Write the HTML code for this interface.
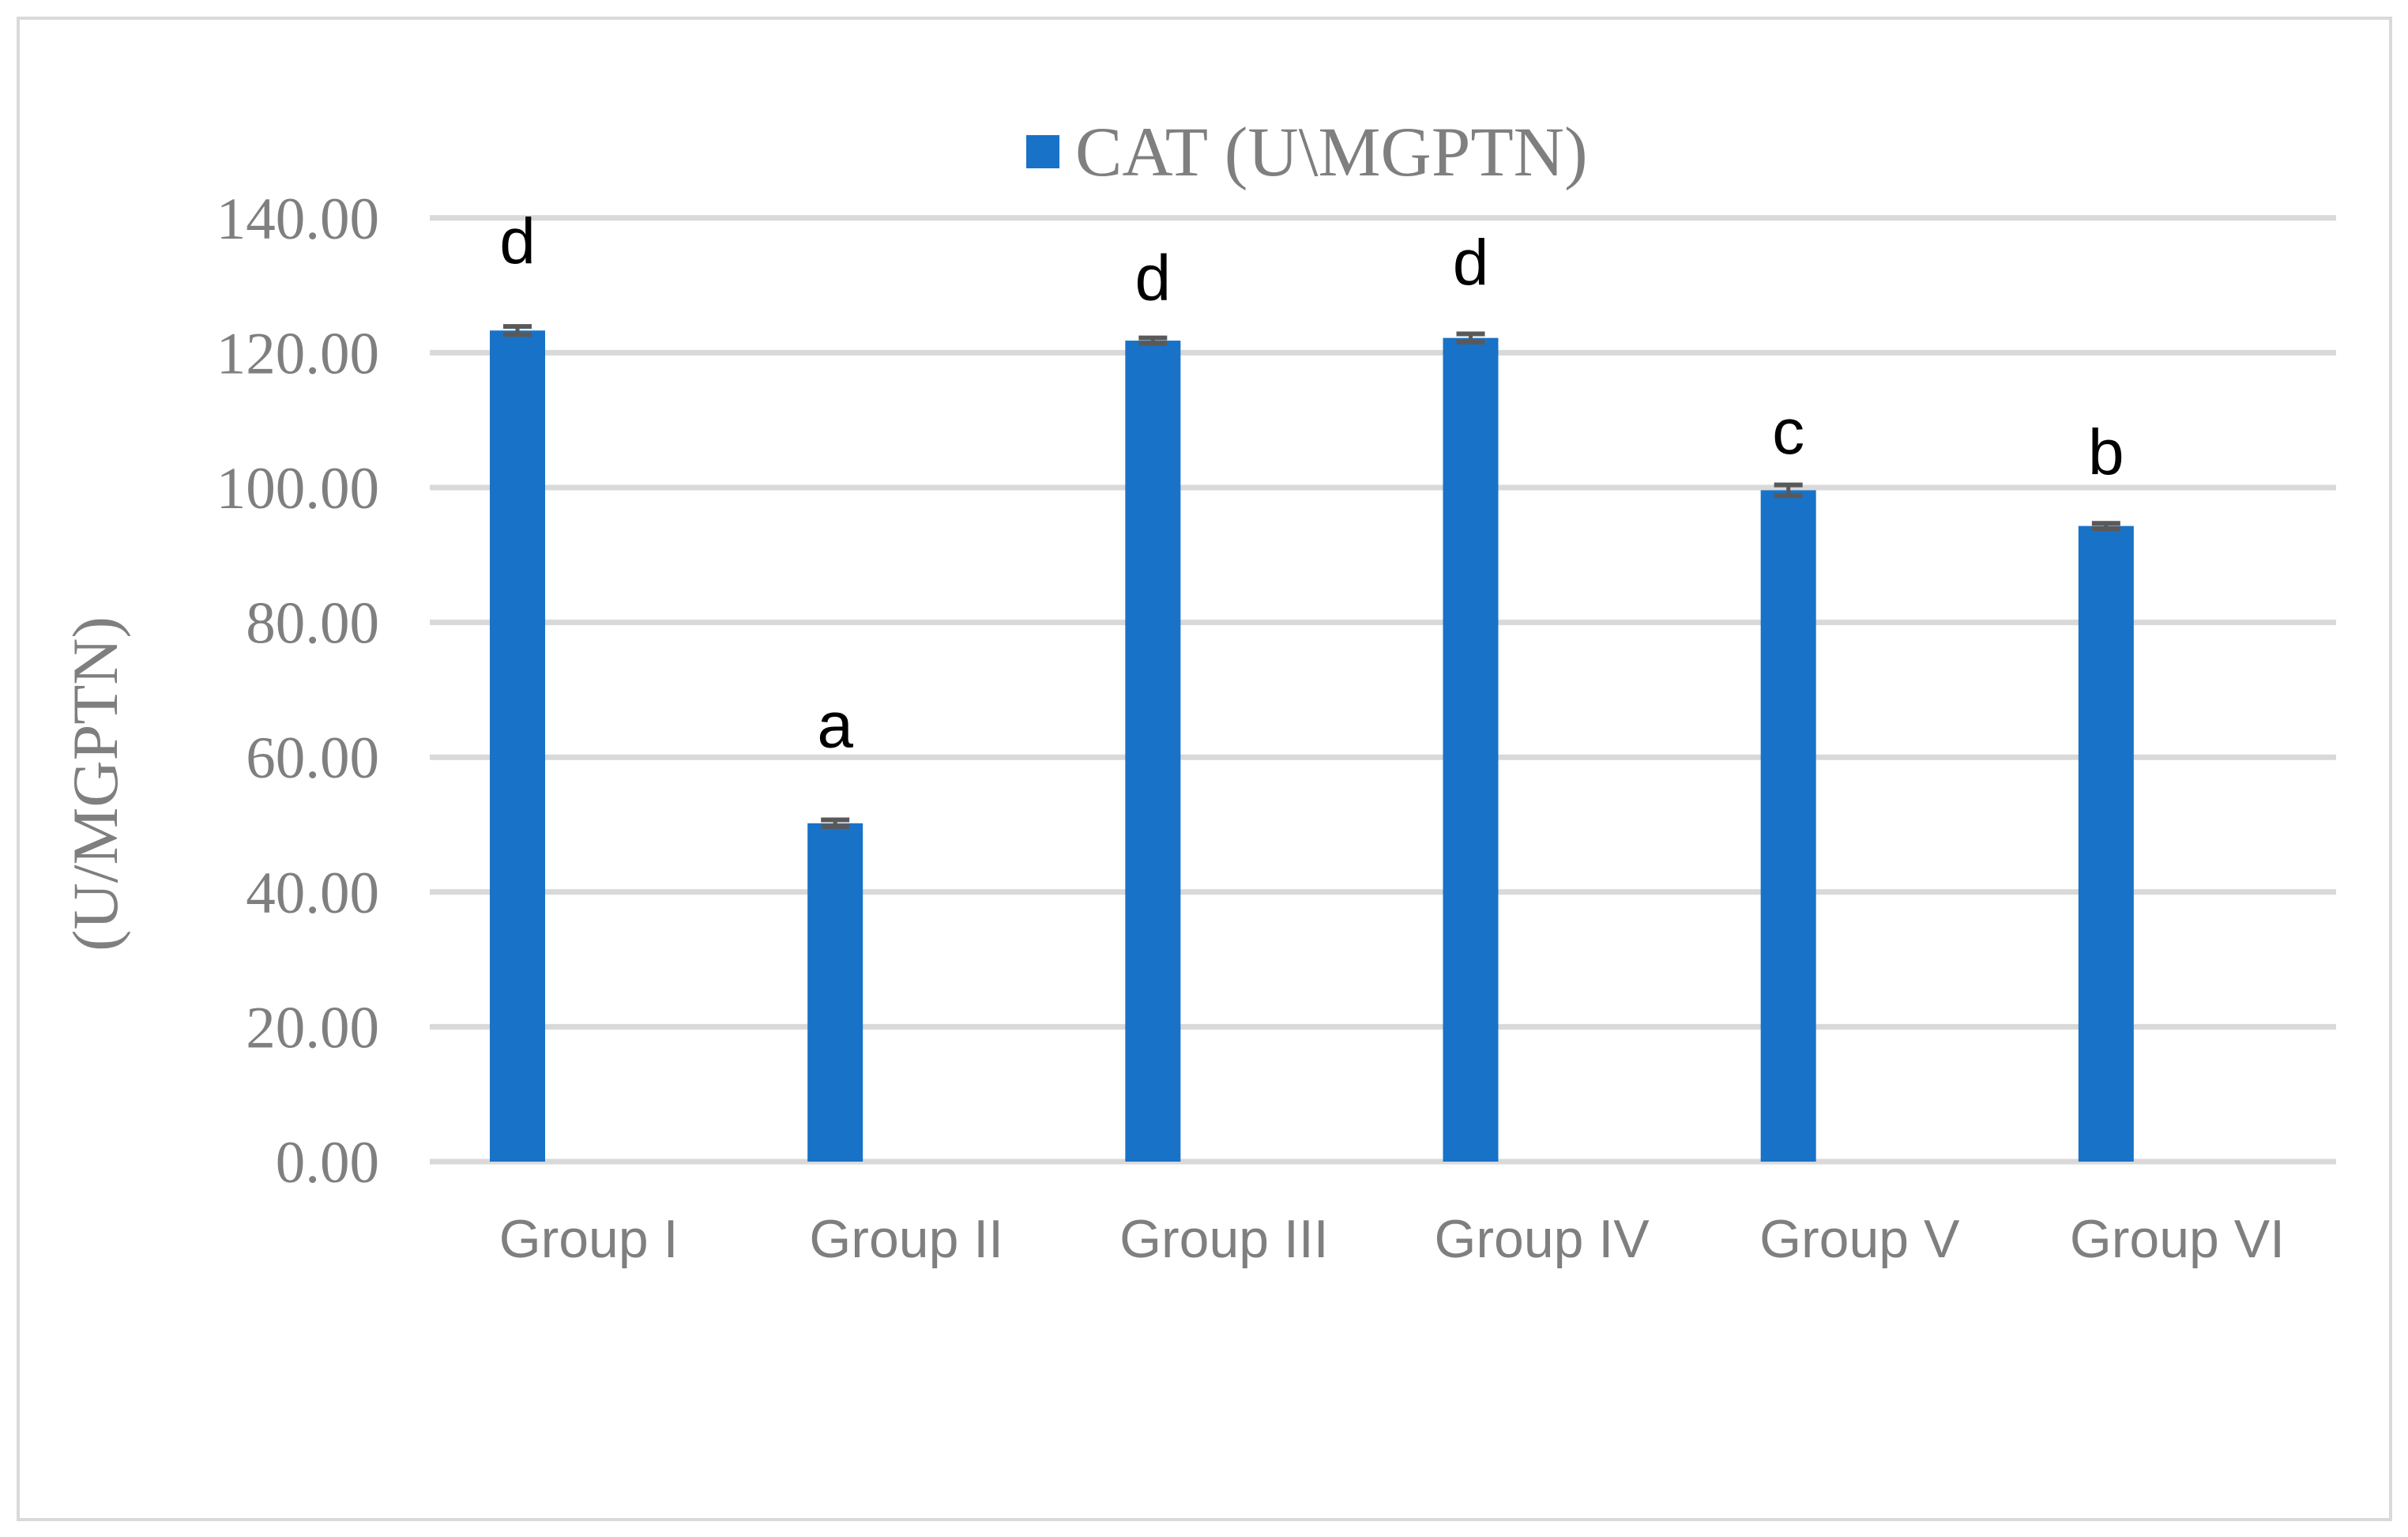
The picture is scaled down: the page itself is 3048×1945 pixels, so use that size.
<!DOCTYPE html>
<html><head><meta charset="utf-8"><style>
html,body{margin:0;padding:0;background:#fff;}
svg{display:block;}
</style></head><body>
<svg id="chart" width="3048" height="1945" viewBox="0 0 3048 1945" xmlns="http://www.w3.org/2000/svg">
<rect x="23" y="23" width="3003" height="1900" fill="#fff" stroke="#d9d9d9" stroke-width="4"/>
<g id="grid"></g>
<g id="bars"></g>
<g id="ylabels"></g>
<g id="xlabels"></g>
<g id="letters"></g>
<rect x="1299" y="171" width="42" height="42" fill="#1872c8"/>
<text x="1361" y="222" font-family="Liberation Serif, serif" font-size="89" fill="#7f7f7f">CAT (U\MGPTN)</text>
<text transform="translate(148,992) rotate(-90)" text-anchor="middle" font-family="Liberation Serif, serif" font-size="82" fill="#7f7f7f">(U/MGPTN)</text>
</svg>
<script>
const categories = ["Group I","Group II","Group III","Group IV","Group V","Group VI"];
const values = [123.3, 50.2, 121.8, 122.2, 99.6, 94.3];
const errors = [0.6, 0.5, 0.4, 0.6, 0.8, 0.4];
const sigLetters = ["d","a","d","d","c","b"];
const letterLevels = [136.6, 64.8, 131.1, 133.4, 108.3, 105.3];
const yTicks = [0,20,40,60,80,100,120,140];
const yTickLabels = ["0.00","20.00","40.00","60.00","80.00","100.00","120.00","140.00"];

const NS="http://www.w3.org/2000/svg";
const X0=544, X1=2957, Y0=1470, PX20=170.6;
const BW=70, OFF=111;
const y = v => Y0 - v*PX20/20;
const catW = (X1-X0)/categories.length;
const barX = i => X0 + i*catW + OFF - BW/2;
const barCx = i => X0 + i*catW + OFF;
const catCx = i => X0 + i*catW + catW/2;
function mk(tag, attrs, parent){const e=document.createElementNS(NS,tag);for(const k in attrs)e.setAttribute(k,attrs[k]);document.getElementById(parent).appendChild(e);return e;}

yTicks.forEach((t,i)=>{
  const g=mk('line',{x1:X0,x2:X1,y1:y(t),y2:y(t),stroke:'#d9d9d9','stroke-width':7},'grid');
  
  
  const l=mk('text',{x:480,y:y(t)+26,'text-anchor':'end','font-family':'Liberation Serif, serif','font-size':75,fill:'#7f7f7f'},'ylabels');
  l.textContent=yTickLabels[i];
  
  
});
categories.forEach((c,i)=>{
  const b=mk('rect',{x:barX(i),y:y(values[i]),width:BW,height:Y0-y(values[i]),fill:'#1872c8'},'bars');
  
  
  const cx=barCx(i), hi=y(values[i]+errors[i]), lo=y(values[i]-errors[i]);
  const e1=mk('line',{x1:cx,x2:cx,y1:hi,y2:lo,stroke:'#595959','stroke-width':5},'bars');
  
  
  [hi,lo].forEach(yy=>{
    const cap=mk('line',{x1:cx-18,x2:cx+18,y1:yy,y2:yy,stroke:'#595959','stroke-width':6},'bars');
    
    
  });
  const xl=mk('text',{x:catCx(i),y:1591,'text-anchor':'middle','font-family':'Liberation Sans, sans-serif','font-size':68,fill:'#7f7f7f'},'xlabels');
  xl.textContent=c;
  
  
  const lt=mk('text',{x:cx,y:y(letterLevels[i])+28,'text-anchor':'middle','font-family':'Liberation Sans, sans-serif','font-size':82,fill:'#000'},'letters');
  lt.textContent=sigLetters[i];
  
  
});
</script>
</body></html>
